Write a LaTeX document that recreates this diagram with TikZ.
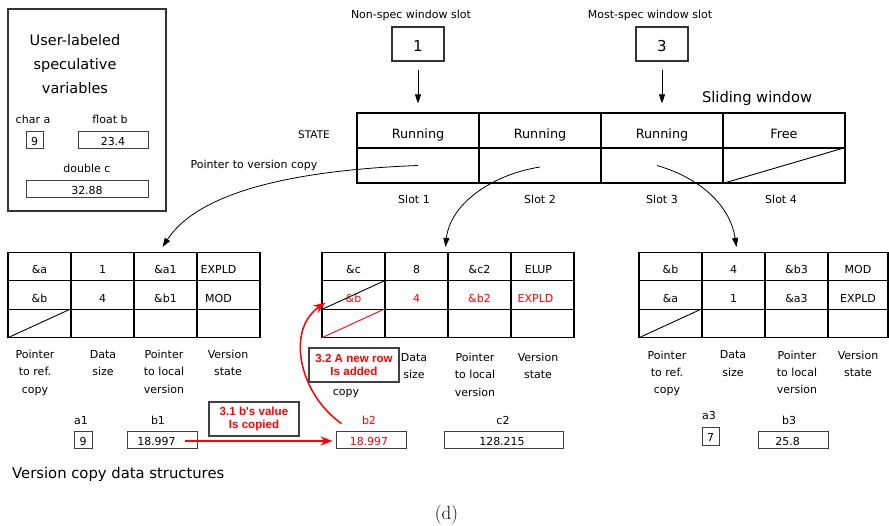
\documentclass[tikz,border=0pt]{standalone}
\usepackage{fontspec}
\setsansfont{DejaVu Sans}
\newfontfamily\notefont{Liberation Sans}
\usetikzlibrary{arrows.meta}

\tikzset{
  sz/.style={font=\sffamily\fontsize{#1}{#1}\selectfont},
  lbl/.style={inner sep=0pt, anchor=base, sz=11},
  lshift/.style={execute at begin node={\hspace*{-#1}}},
  wcell/.style={draw, line width=1.1pt, minimum width=122pt, minimum height=35pt,
    inner sep=0pt, text height=17pt, text depth=0pt, sz=12.8},
  tcell/.style={draw, line width=1.1pt, minimum width=63pt, minimum height=28.3pt,
    inner sep=0pt, text height=14.6pt, text depth=0pt, sz=11},
  valbox/.style={draw=black!75, line width=0.9pt, minimum height=17pt, inner sep=0pt,
    text height=12pt, text depth=0pt, sz=11},
  slotbox/.style={draw=black!80, line width=1.1pt, minimum width=52pt, minimum height=34pt,
    inner sep=0pt, text height=15.4pt, text depth=0pt, sz=15},
  tlab/.style={inner sep=0pt, anchor=north, align=center,
    font=\sffamily\fontsize{11}{17.4}\selectfont},
  note/.style={draw=black!75, line width=1.1pt, fill=white, text=red, align=center,
    inner sep=0pt, minimum width=90pt, minimum height=34pt,
    font=\notefont\bfseries\fontsize{11.6}{13.6}\selectfont},
  blk/.style={line width=0.8pt, -{Triangle[length=9pt,width=6pt]}},
  rd/.style={red, line width=1.5pt, -{Stealth[length=12pt,width=9pt]}},
}

\begin{document}
\begin{tikzpicture}[x=1pt,y=-1pt]
\useasboundingbox (0,0) rectangle (889,526);

% ---------- user-labeled speculative variables ----------
\node[draw=black!80, line width=1.1pt, minimum width=158pt, minimum height=202pt, inner sep=0pt] (ubox) at (87,110) {};
\node[inner sep=0pt, anchor=north, align=center, font=\sffamily\fontsize{14.5}{24}\selectfont] (utitle) at (75,34) {User-labeled\\speculative\\variables};
\node[lbl] (ucharl) at (33,124) {char a};
\node[lbl] (ufloatl) at (110,124) {float b};
\node[lbl] (udoublel) at (87,173) {double c};
\node[valbox, minimum width=17pt] (uchar) at (34.5,139.5) {9};
\node[valbox, minimum width=70pt] (ufloat) at (113,139.5) {23.4};
\node[valbox, minimum width=122pt] (udouble) at (87,188.5) {32.88};

% ---------- window slot indices ----------
\node[lbl] (nsl) at (411,19) {Non-spec window slot};
\node[lbl] (msl) at (650,19) {Most-spec window slot};
\node[slotbox] (n1) at (418,44) {1};
\node[slotbox] (n3) at (662,44) {3};

% ---------- sliding window ----------
\node[inner sep=0pt, anchor=base, sz=14.7] (swl) at (757,102.7) {Sliding window};
\node[inner sep=0pt, anchor=base, sz=10.5] (statel) at (314,138.5) {STATE};
\node[lbl] (ptrl) at (254,168.5) {Pointer to version copy};
\node[wcell] (W1s) at (418,130.5) {Running};
\node[wcell] (W2s) at (540,130.5) {Running};
\node[wcell] (W3s) at (662,130.5) {Running};
\node[wcell] (W4s) at (784,130.5) {Free};
\node[wcell] (W1p) at (418,165.5) {};
\node[wcell] (W2p) at (540,165.5) {};
\node[wcell] (W3p) at (662,165.5) {};
\node[wcell] (W4p) at (784,165.5) {};
\draw[line width=0.9pt] (W4p.south west) -- (W4p.north east);
\node[lbl] (s1) at (414,204) {Slot 1};
\node[lbl] (s2) at (540,204) {Slot 2};
\node[lbl] (s3) at (662,204) {Slot 3};
\node[lbl] (s4) at (781,204) {Slot 4};

\draw[blk] ([yshift=-8pt]n1.south) -- ([yshift=9pt]W1s.north);
\draw[blk] ([yshift=-8pt]n3.south) -- ([yshift=9pt]W3s.north);

% ---------- version copy of slot 1 ----------
\node[tcell] (L11) at (39.5,266.65) {\&a};
\node[tcell] (L12) at (102.5,266.65) {1};
\node[tcell] (L13) at (165.5,266.65) {\&a1};
\node[tcell, lshift=20pt] (L14) at (228.5,266.65) {EXPLD};
\node[tcell] (L21) at (39.5,294.95) {\&b};
\node[tcell] (L22) at (102.5,294.95) {4};
\node[tcell] (L23) at (165.5,294.95) {\&b1};
\node[tcell, lshift=20pt] (L24) at (228.5,294.95) {MOD};
\node[tcell] (L31) at (39.5,323.25) {};
\node[tcell] (L32) at (102.5,323.25) {};
\node[tcell] (L33) at (165.5,323.25) {};
\node[tcell] (L34) at (228.5,323.25) {};
\draw[line width=0.9pt] (L31.south west) -- (L31.north east);
\node[tlab] (Lh1) at (35,350) {Pointer\\to ref.\\copy};
\node[tlab] (Lh2) at (103,350) {Data\\size};
\node[tlab] (Lh3) at (164,350) {Pointer\\to local\\version};
\node[tlab] (Lh4) at (228,350) {Version\\state};

% ---------- version copy of slot 2 ----------
\node[tcell] (M11) at (353.5,266.65) {\&c};
\node[tcell] (M12) at (416.5,266.65) {8};
\node[tcell] (M13) at (479.5,266.65) {\&c2};
\node[tcell, lshift=8pt] (M14) at (542.5,266.65) {ELUP};
\node[tcell, text=red] (M21) at (353.5,294.95) {\&b};
\node[tcell, text=red] (M22) at (416.5,294.95) {4};
\node[tcell, text=red] (M23) at (479.5,294.95) {\&b2};
\node[tcell, text=red, lshift=14pt] (M24) at (542.5,294.95) {EXPLD};
\node[tcell] (M31) at (353.5,323.25) {};
\node[tcell] (M32) at (416.5,323.25) {};
\node[tcell] (M33) at (479.5,323.25) {};
\node[tcell] (M34) at (542.5,323.25) {};
\draw[line width=0.9pt] (M21.south west) -- (M21.north east);
\draw[red, line width=0.9pt] (M31.south west) -- (M31.north east);
\node[lbl] (Mh1) at (346,396) {copy};
\node[tlab] (Mh2) at (414,353) {Data\\size};
\node[tlab] (Mh3) at (475,353) {Pointer\\to local\\version};
\node[tlab] (Mh4) at (538,353) {Version\\state};

% ---------- version copy of slot 3 ----------
\node[tcell] (R11) at (670.5,266.65) {\&b};
\node[tcell] (R12) at (733.5,266.65) {4};
\node[tcell] (R13) at (796.5,266.65) {\&b3};
\node[tcell, minimum width=60pt] (R14) at (858,266.65) {MOD};
\node[tcell] (R21) at (670.5,294.95) {\&a};
\node[tcell] (R22) at (733.5,294.95) {1};
\node[tcell] (R23) at (796.5,294.95) {\&a3};
\node[tcell, minimum width=60pt] (R24) at (858,294.95) {EXPLD};
\node[tcell] (R31) at (670.5,323.25) {};
\node[tcell] (R32) at (733.5,323.25) {};
\node[tcell] (R33) at (796.5,323.25) {};
\node[tcell, minimum width=60pt] (R34) at (858,323.25) {};
\draw[line width=0.9pt] (R31.south west) -- (R31.north east);
\node[tlab] (Rh1) at (667,350.6) {Pointer\\to ref.\\copy};
\node[tlab] (Rh2) at (733,350.6) {Data\\size};
\node[tlab] (Rh3) at (797,350.6) {Pointer\\to local\\version};
\node[tlab] (Rh4) at (858,350.6) {Version\\state};

% ---------- pointers from the window to the version copies ----------
\draw[blk] (W1p.center) .. controls (300,170) and (200,190) .. ([xshift=-3pt,yshift=5pt]L13.north);
\draw[blk] ([yshift=-1.5pt]W2p.center) .. controls (490,175) and (450,205) .. ([xshift=-2pt,yshift=5pt]M13.north west);
\draw[blk] ([xshift=-5pt]W3p.center) .. controls (700,178) and (730,205) .. ([xshift=3pt,yshift=5pt]R12.north);

% ---------- local versions ----------
\node[lbl] (a1l) at (81,424.3) {a1};
\node[lbl] (b1l) at (158,424.3) {b1};
\node[lbl, text=red] (b2l) at (369,424.3) {b2};
\node[lbl] (c2l) at (503,424.3) {c2};
\node[lbl] (a3l) at (709,420) {a3};
\node[lbl] (b3l) at (789,424.3) {b3};
\node[valbox, minimum width=18pt] (a1v) at (83,439.5) {9};
\node[valbox, minimum width=70pt, lshift=11pt] (b1v) at (162,439.5) {18.997};
\node[valbox, minimum width=70pt, text=red, lshift=4pt] (b2v) at (371,439.5) {18.997};
\node[valbox, minimum width=119pt, lshift=3pt] (c2v) at (503.5,439.5) {128.215};
\node[valbox, minimum width=17pt, minimum height=18pt] (a3v) at (710.5,436) {7};
\node[valbox, minimum width=70pt, lshift=11pt] (b3v) at (793,439.5) {25.8};

% ---------- steps 3.1 and 3.2 ----------
\draw[rd] ([xshift=-12pt,yshift=-1.5pt]b1v.east) -- ([xshift=-3pt,yshift=-1.5pt]b2v.west);
\node[note] (st31) at (254,419) {3.1 b's value\\Is copied};
\draw[rd] ([xshift=6pt,yshift=7pt]b2v.north west) .. controls (300,395) and (285,330) .. ([xshift=4pt,yshift=7pt]M21.south west);
\node[note] (st32) at (354,365) {3.2 A new row\\Is added};

% ---------- captions ----------
\node[inner sep=0pt, anchor=base west, sz=14.8] (vcl) at (12,478.3) {Version copy data structures};
\node[inner sep=0pt, anchor=base, font=\rmfamily\fontsize{19}{21}\selectfont] (cap) at (446.5,519) {(d)};
\end{tikzpicture}
\end{document}
